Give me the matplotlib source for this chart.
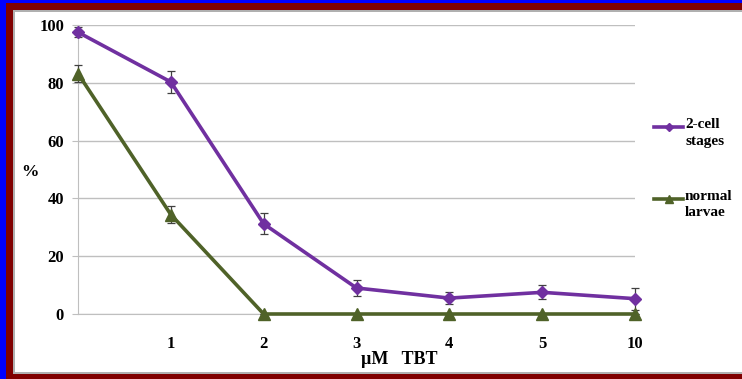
import matplotlib.pyplot as plt
from matplotlib.patches import Rectangle
from matplotlib.lines import Line2D

W, H = 742, 379

doses = ['', '1', '2', '3', '4', '5', '10']
cell_stages = [97.5, 80.3, 31.2, 9.0, 5.5, 7.5, 5.3]
cell_stages_err = [1.8, 3.8, 3.6, 2.6, 2.0, 2.4, 3.8]
normal_larvae = [83.2, 34.4, 0, 0, 0, 0, 0]
normal_larvae_err = [2.8, 3.0, 0, 0, 0, 0, 0]

purple = '#7030A0'
green = '#4F6228'
serif = ['Liberation Serif', 'DejaVu Serif']


def px_rect(fig, x, y, w, h, color):
    # rectangle given in pixels from the top-left corner
    fig.add_artist(Rectangle((x / W, 1 - (y + h) / H), w / W, h / H,
                             transform=fig.transFigure, color=color, lw=0, zorder=0))


fig = plt.figure(figsize=(W / 100, H / 100), dpi=100)

# frame around the chart
px_rect(fig, 0, 0, 6, H, '#0000FF')
px_rect(fig, 0, 0, W, 3, '#0000FF')
px_rect(fig, 6, 3, 7, H - 3, '#800000')
px_rect(fig, 6, 3, W - 6, 7, '#800000')
px_rect(fig, 6, 374, W - 6, 5, '#800000')
px_rect(fig, 13, 10, 1.5, 364, '#B0B0B0')
px_rect(fig, 13, 10, W - 13, 1.5, '#B0B0B0')
px_rect(fig, 13, 372, W - 13, 2, '#B0B0B0')

ax = fig.add_axes([78 / W, 1 - 314 / H, (635 - 78) / W, (314 - 25) / H])
ax.set_facecolor('none')
x = list(range(len(doses)))

for vals, errs, col, mk, ms, lab in [
        (cell_stages, cell_stages_err, purple, 'D', 6.5, '2-cell\nstages'),
        (normal_larvae, normal_larvae_err, green, '^', 9, 'normal\nlarvae')]:
    line, caps, bars = ax.errorbar(x, vals, yerr=errs, color=col, lw=2.6,
                                   marker=mk, ms=ms, ecolor='#404040',
                                   elinewidth=0.9, capsize=3, capthick=0.9,
                                   label=lab, zorder=3)
    line.set_clip_on(False)
    for c in caps:
        c.set_clip_on(False)
    for b in bars:
        b.set_clip_on(False)

ax.set_xlim(0, 6)
ax.set_ylim(0, 100)
ax.set_yticks(range(0, 101, 20))
ax.grid(axis='y', color='#BFBFBF', lw=1)
ax.set_axisbelow(True)
for s in ['top', 'right']:
    ax.spines[s].set_visible(False)
ax.spines['left'].set_color('#BFBFBF')
ax.spines['bottom'].set_color('#BFBFBF')
ax.tick_params(axis='y', length=4, color='#BFBFBF', pad=6)
ax.tick_params(axis='x', length=0, pad=16)
ax.set_xticks(x)
ax.set_xticklabels(doses)
for lab in ax.get_xticklabels() + ax.get_yticklabels():
    lab.set_fontfamily(serif)
    lab.set_fontweight('bold')
    lab.set_fontsize(12)

fig.text(30 / W, 1 - 172 / H, '%', family=serif, weight='bold', fontsize=12.5,
         ha='center', va='center')
fig.text(399 / W, 1 - 359 / H, 'µM   TBT', family=serif, weight='bold',
         fontsize=13, ha='center', va='center')

# legend entries on the right
for y0, col, mk, ms, txt in [(127, purple, 'D', 4, '2-cell\nstages'),
                             (199, green, '^', 6, 'normal\nlarvae')]:
    fy = 1 - y0 / H
    fig.add_artist(Line2D([654 / W, 683 / W], [fy, fy], color=col, lw=2.6,
                          transform=fig.transFigure))
    fig.add_artist(Line2D([669 / W], [fy], color=col, marker=mk, ms=ms,
                          transform=fig.transFigure))
    fig.text(685 / W, fy + 9 / H, txt, family=serif, weight='bold',
             fontsize=11, ha='left', va='top', linespacing=1.35)

fig.savefig('out.png', dpi=100)
